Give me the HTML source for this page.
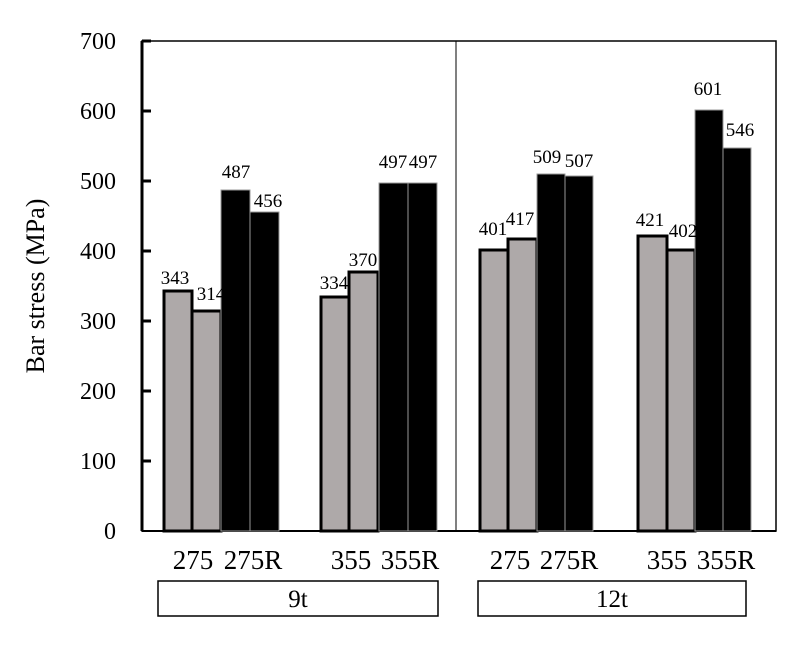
<!DOCTYPE html>
<html><head><style>body{margin:0;background:#fff}</style></head><body>
<svg width="809" height="640" xmlns="http://www.w3.org/2000/svg" font-family="Liberation Serif, serif">
<rect x="142" y="41" width="634" height="490" fill="none" stroke="#000" stroke-width="1.5"/>
<line x1="456" y1="41" x2="456" y2="531" stroke="#000" stroke-width="1"/>
<line x1="142" y1="41" x2="142" y2="531" stroke="#000" stroke-width="3"/>
<line x1="142" y1="531" x2="776" y2="531" stroke="#000" stroke-width="2"/>
<g stroke="#000" stroke-width="3">
<line x1="142" y1="461" x2="151" y2="461"/><line x1="142" y1="391" x2="151" y2="391"/><line x1="142" y1="321" x2="151" y2="321"/><line x1="142" y1="251" x2="151" y2="251"/><line x1="142" y1="181" x2="151" y2="181"/><line x1="142" y1="111" x2="151" y2="111"/><line x1="142" y1="41" x2="151" y2="41"/>
</g>
<g font-size="24" text-anchor="end">
<text x="116" y="539">0</text><text x="116" y="469">100</text><text x="116" y="399">200</text><text x="116" y="329">300</text><text x="116" y="259">400</text><text x="116" y="189">500</text><text x="116" y="119">600</text><text x="116" y="49">700</text>
</g>
<text transform="translate(44,286) rotate(-90)" font-size="26" text-anchor="middle">Bar stress (MPa)</text>
<g fill="#aea9a9" stroke="#000" stroke-width="3">
<rect x="164" y="291" width="28" height="240"/>
<rect x="192" y="311" width="29" height="220"/>
<rect x="321" y="297" width="28" height="234"/>
<rect x="349" y="272" width="29" height="259"/>
<rect x="480" y="250" width="28" height="281"/>
<rect x="508" y="239" width="29" height="292"/>
<rect x="638" y="236" width="29" height="295"/>
<rect x="667" y="250" width="28" height="281"/>
</g>
<g fill="#000" stroke="#999" stroke-width="1">
<rect x="221" y="190" width="29" height="341"/>
<rect x="250" y="212" width="29" height="319"/>
<rect x="379" y="183" width="29" height="348"/>
<rect x="408" y="183" width="29" height="348"/>
<rect x="537" y="174" width="28" height="357"/>
<rect x="565" y="176" width="28" height="355"/>
<rect x="695" y="110" width="28" height="421"/>
<rect x="723" y="148" width="28" height="383"/>
</g>
<g font-size="19" text-anchor="middle">
<text x="175" y="284">343</text><text x="211" y="300">314</text>
<text x="236" y="178">487</text><text x="268" y="207">456</text>
<text x="334" y="289">334</text><text x="363" y="266">370</text>
<text x="393" y="168">497</text><text x="423" y="168">497</text>
<text x="493" y="235">401</text><text x="520" y="225">417</text>
<text x="547" y="163">509</text><text x="579" y="167">507</text>
<text x="650" y="226">421</text><text x="683" y="237">402</text>
<text x="708" y="95">601</text><text x="740" y="136">546</text>
</g>
<g font-size="27" text-anchor="middle">
<text x="193" y="569">275</text><text x="253" y="569">275R</text>
<text x="351" y="569">355</text><text x="410" y="569">355R</text>
<text x="510" y="569">275</text><text x="569" y="569">275R</text>
<text x="667" y="569">355</text><text x="726" y="569">355R</text>
</g>
<rect x="158" y="581" width="280" height="35" fill="none" stroke="#000" stroke-width="1.5"/>
<rect x="478" y="581" width="268" height="35" fill="none" stroke="#000" stroke-width="1.5"/>
<text x="298" y="607" font-size="25" text-anchor="middle">9t</text>
<text x="612" y="607" font-size="25" text-anchor="middle">12t</text>
</svg>
</body></html>
